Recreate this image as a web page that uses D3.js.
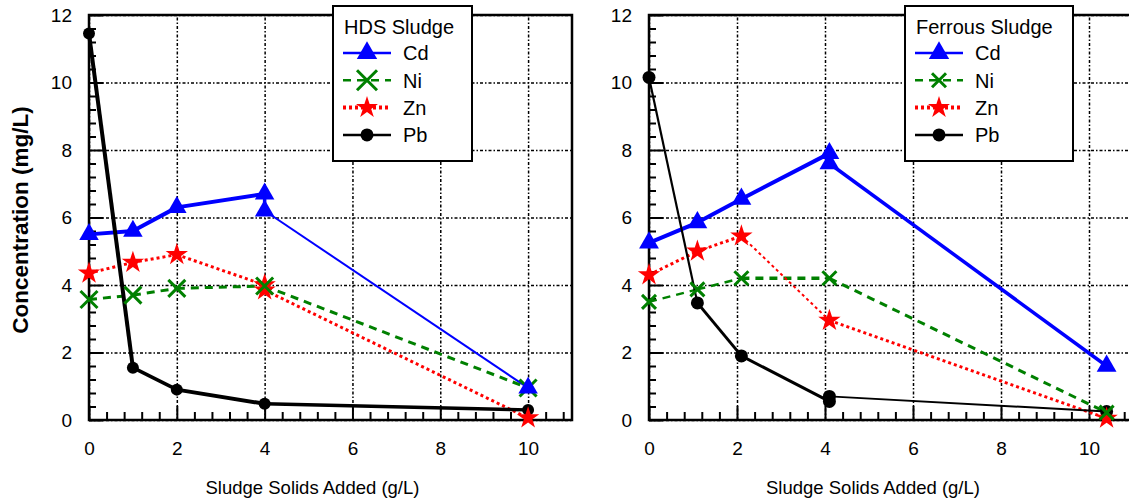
<!DOCTYPE html>
<html>
<head>
<meta charset="utf-8">
<script src="https://cdnjs.cloudflare.com/ajax/libs/d3/7.8.5/d3.min.js"></script>
<style>
  body { margin: 0; background: #fff; }
  text { font-family: 'Liberation Sans', Arial, sans-serif; }
</style>
</head>
<body>
<div class="chart"></div>
<script>
// sludge solids added (g/L)
var hdsDose = [0, 1, 2, 4, 10];
var ferrousDose = [0, 1.1, 2.1, 4.1, 10.4];

// concentrations (mg/L), a nested array = replicate samples at the same dose
var hdsCd = [5.5, 5.6, 6.3, [6.7, 6.2], 0.95];
var hdsNi = [3.57, 3.7, 3.9, 3.97, 0.95];
var hdsZn = [4.35, 4.67, 4.9, [4.0, 3.85], 0.06];
var hdsPb = [11.45, 1.55, 0.9, 0.48, 0.3];

var ferrousCd = [5.25, 5.85, 6.55, [7.9, 7.6], 1.6];
var ferrousNi = [3.5, 3.87, 4.2, 4.2, 0.22];
var ferrousZn = [4.3, 5.0, 5.45, 2.95, 0.05];
var ferrousPb = [10.15, 3.47, 1.9, [0.55, 0.7], 0.25];

var metals = ['Cd', 'Ni', 'Zn', 'Pb'];
var xTicks = [0, 2, 4, 6, 8, 10];
var yTicks = [0, 2, 4, 6, 8, 10, 12];

var width = 1129,
  height = 504,
  plotTop = 15,
  plotBottom = 420;

var styles = {
  Cd: { color: '#0000ff', dash: null, type: d3.symbolTriangle },
  Ni: { color: '#008000', dash: '8,6', type: null },
  Zn: { color: '#ff0000', dash: '3,3', type: d3.symbolStar },
  Pb: { color: '#000000', dash: null, type: null }
};

var panels = [
  {
    name: 'HDS Sludge', dose: hdsDose, values: [hdsCd, hdsNi, hdsZn, hdsPb],
    left: 89, right: 572, legendX: 333, legendW: 139,
    widths: { Cd: [4, 4, 4, 3.5, 2], Ni: [3], Zn: [3], Pb: [4, 3.5, 4, 3.5] },
    marker: { Cd: 165, Ni: 8.5, Zn: 155, Pb: 6 },
    legendMarker: { Cd: 180, Ni: 10, Zn: 150, Pb: 6.5 }
  },
  {
    name: 'Ferrous Sludge', dose: ferrousDose, values: [ferrousCd, ferrousNi, ferrousZn, ferrousPb],
    left: 649, right: 1133, legendX: 905, legendW: 168,
    widths: { Cd: [4, 4, 4, 3.5, 3.5], Ni: [2.5, 2.5, 3.5, 3], Zn: [3, 3, 2, 3], Pb: [2.2, 3, 3, 3, 2] },
    marker: { Cd: 170, Ni: 7, Zn: 155, Pb: 6.5 },
    legendMarker: { Cd: 180, Ni: 7, Zn: 150, Pb: 6.5 }
  }
];

var svg = d3.select('.chart')
  .append('svg')
    .attr('width', width)
    .attr('height', height);

// y axis title, shared by both panels
svg.append('text')
  .attr('transform', 'translate(28, 220) rotate(-90)')
  .attr('text-anchor', 'middle')
  .style('font-size', '22.5px')
  .style('font-weight', 'bold')
  .text('Concentration (mg/L)');

panels.forEach(drawPanel);

function drawPanel(p) {
  var x = d3.scaleLinear().domain([0, 11]).range([p.left, p.right]);
  var y = d3.scaleLinear().domain([0, 12]).range([plotBottom, plotTop]);
  var g = svg.append('g');

  // dotted grid
  g.append('g')
    .attr('transform', `translate(0, ${plotBottom})`)
    .call(d3.axisBottom(x).tickValues(xTicks).tickSize(-(plotBottom - plotTop)).tickFormat(''))
    .call(grid);
  g.append('g')
    .attr('transform', `translate(${p.left}, 0)`)
    .call(d3.axisLeft(y).tickValues(yTicks).tickSize(-(p.right - p.left)).tickFormat(''))
    .call(grid);

  g.append('rect')
    .attr('x', p.left)
    .attr('y', plotTop)
    .attr('width', p.right - p.left)
    .attr('height', plotBottom - plotTop)
    .attr('fill', 'none')
    .attr('stroke', '#000')
    .attr('stroke-width', 2.5);

  // inward ticks, major and minor
  var minorX = d3.range(1, 28).filter(i => i % 5).map(i => i * 0.4);
  var minorY = d3.range(1, 30).filter(i => i % 5).map(i => i * 0.4);

  g.append('g')
    .attr('transform', `translate(0, ${plotBottom})`)
    .call(d3.axisBottom(x).tickValues(minorX).tickSize(-8).tickFormat(''))
    .call(ticks);
  g.append('g')
    .attr('transform', `translate(0, ${plotBottom})`)
    .call(d3.axisBottom(x).tickValues(xTicks).tickSize(-14).tickPadding(22))
    .call(ticks);
  g.append('g')
    .attr('transform', `translate(${p.left}, 0)`)
    .call(d3.axisLeft(y).tickValues(minorY).tickSize(-7).tickFormat(''))
    .call(ticks);
  g.append('g')
    .attr('transform', `translate(${p.left}, 0)`)
    .call(d3.axisLeft(y).tickValues(yTicks).tickSize(-14).tickPadding(17))
    .call(ticks);

  // x axis title
  g.append('text')
    .attr('x', (p.left + p.right) / 2 - 18)
    .attr('y', 494)
    .attr('text-anchor', 'middle')
    .style('font-size', '18.5px')
    .text('Sludge Solids Added (g/L)');

  var line = d3.line().x(d => x(d[0])).y(d => y(d[1]));
  var series = metals.map((m, i) => ({ metal: m, pts: toPoints(p.dose, p.values[i]) }));

  // lines first, Pb on top
  series.forEach(s => {
    var st = styles[s.metal], w = p.widths[s.metal];
    d3.pairs(s.pts).forEach((seg, i) => {
      g.append('path')
        .attr('d', line(seg))
        .attr('fill', 'none')
        .attr('stroke', st.color)
        .attr('stroke-width', w[Math.min(i, w.length - 1)])
        .attr('stroke-dasharray', st.dash);
    });
  });

  // markers, Cd on top
  series.slice().reverse().forEach(s => {
    s.pts.forEach(d => {
      var m = g.append('g').attr('transform', `translate(${x(d[0])}, ${y(d[1])})`);
      drawMarker(m, s.metal, p.marker[s.metal]);
    });
  });

  // legend
  var lg = g.append('g')
    .attr('transform', `translate(${p.legendX}, 6)`);
  lg.append('rect')
    .attr('width', p.legendW)
    .attr('height', 155)
    .attr('fill', '#fff')
    .attr('stroke', '#000')
    .attr('stroke-width', 2);
  lg.append('text')
    .attr('x', 11)
    .attr('y', 28)
    .style('font-size', '20px')
    .text(p.name);

  var legendWidths = { Cd: 2.5, Ni: 2.5, Zn: 4, Pb: 2.5 };
  var row = lg.selectAll('.row')
    .data(metals)
    .enter()
    .append('g')
      .attr('class', 'row')
      .attr('transform', (d, i) => `translate(0, ${47 + i * 27.3})`);
  row.append('line')
    .attr('x1', 10)
    .attr('x2', 58)
    .attr('stroke', d => styles[d].color)
    .attr('stroke-width', d => legendWidths[d])
    .attr('stroke-dasharray', d => styles[d].dash);
  row.each(function(d) {
    drawMarker(d3.select(this).append('g').attr('transform', 'translate(34, 0)'), d, p.legendMarker[d]);
  });
  row.append('text')
    .attr('x', 70)
    .attr('dy', '.36em')
    .style('font-size', '20px')
    .text(d => d);
}

function toPoints(dose, vals) {
  var pts = [];
  vals.forEach((v, i) => [].concat(v).forEach(c => pts.push([dose[i], c])));
  return pts;
}

function drawMarker(sel, metal, size) {
  var st = styles[metal];
  if (metal === 'Ni') {
    sel.append('path')
      .attr('d', `M${-size},${-size}L${size},${size}M${-size},${size}L${size},${-size}`)
      .attr('fill', 'none')
      .attr('stroke', st.color)
      .attr('stroke-width', 3);
  } else if (metal === 'Pb') {
    sel.append('circle')
      .attr('r', size)
      .attr('fill', st.color);
  } else {
    sel.append('path')
      .attr('d', d3.symbol(st.type, size)())
      .attr('fill', st.color);
  }
}

function grid(sel) {
  sel.select('.domain').remove();
  sel.selectAll('.tick line')
    .attr('stroke', '#000')
    .attr('stroke-width', 1.5)
    .attr('stroke-dasharray', '3,2,1.5,2');
}

function ticks(sel) {
  sel.select('.domain').remove();
  sel.selectAll('.tick line')
    .attr('stroke', '#000')
    .attr('stroke-width', 2);
  sel.selectAll('.tick text')
    .attr('fill', '#000')
    .style('font-size', '19px')
    .style('font-family', "'Liberation Sans', Arial, sans-serif");
}
</script>
</body>
</html>
